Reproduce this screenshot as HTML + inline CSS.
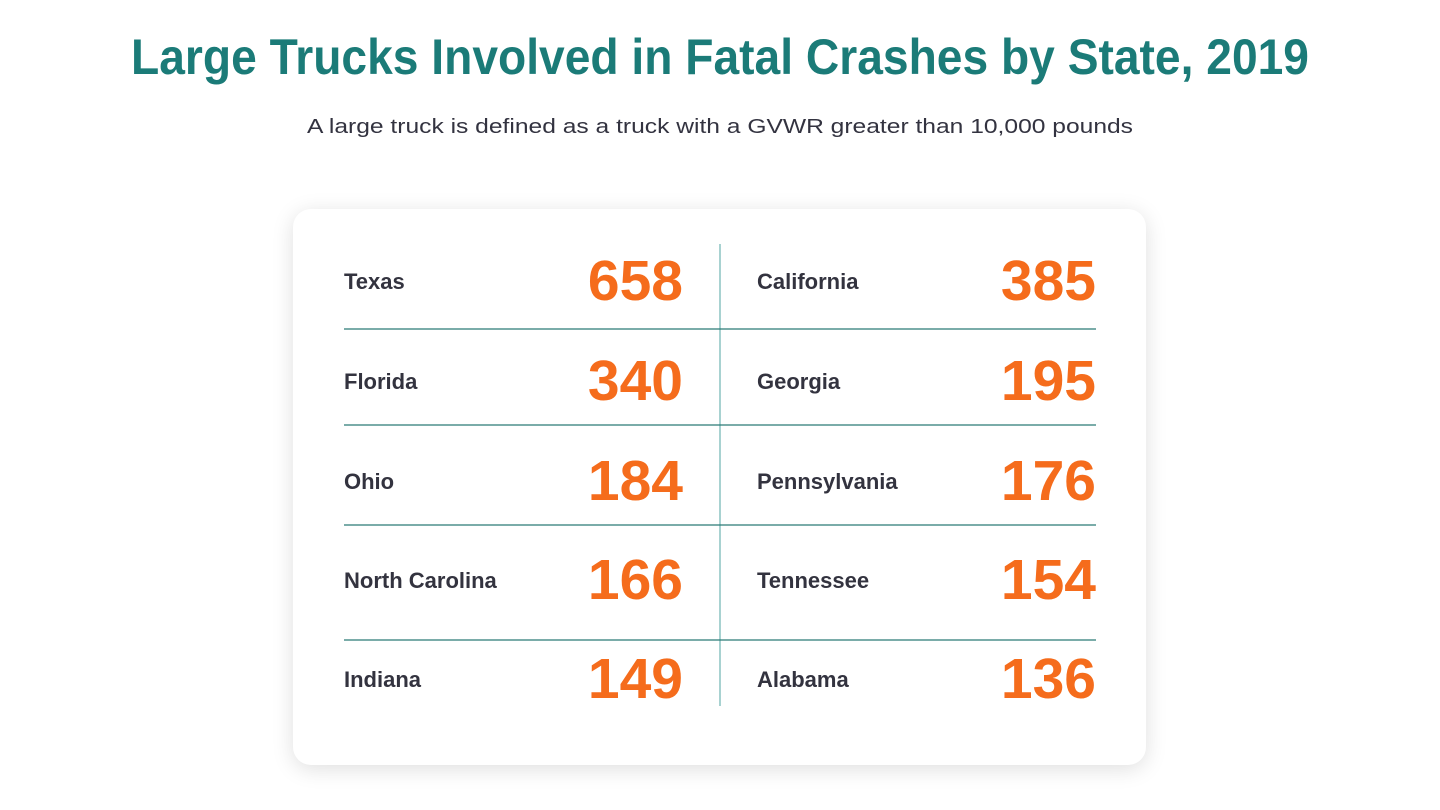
<!DOCTYPE html>
<html><head><meta charset="utf-8"><style>
html,body{margin:0;padding:0;background:#fff;width:1440px;height:810px;overflow:hidden}
.card{position:absolute;left:293px;top:209px;width:853px;height:556px;background:#fff;border-radius:18px;box-shadow:0 4px 22px rgba(0,0,0,0.13)}
svg{position:absolute;left:0;top:0}
</style></head><body>
<div class="card"></div>
<svg width="1440" height="810" font-family="Liberation Sans, sans-serif">
<text x="720" y="74" text-anchor="middle" font-size="50" font-weight="bold" fill="#1b7b78" textLength="1178" lengthAdjust="spacingAndGlyphs">Large Trucks Involved in Fatal Crashes by State, 2019</text>
<text x="720" y="133" text-anchor="middle" font-size="20" fill="#333340" textLength="826" lengthAdjust="spacingAndGlyphs">A large truck is defined as a truck with a GVWR greater than 10,000 pounds</text>
<line x1="720" y1="244" x2="720" y2="706" stroke="#8cc4c2" stroke-width="1.5"/>
<g stroke="#2a7a76" stroke-width="1.2">
<line x1="344" y1="329" x2="1096" y2="329"/>
<line x1="344" y1="425" x2="1096" y2="425"/>
<line x1="344" y1="525" x2="1096" y2="525"/>
<line x1="344" y1="640" x2="1096" y2="640"/>
</g>
<g font-size="22" font-weight="bold" fill="#33333f">
<text x="344" y="289">Texas</text><text x="757" y="289">California</text>
<text x="344" y="389">Florida</text><text x="757" y="389">Georgia</text>
<text x="344" y="489">Ohio</text><text x="757" y="489">Pennsylvania</text>
<text x="344" y="588">North Carolina</text><text x="757" y="588">Tennessee</text>
<text x="344" y="687">Indiana</text><text x="757" y="687">Alabama</text>
</g>
<g font-size="57" font-weight="bold" fill="#f56c1c" text-anchor="end">
<text x="683" y="300">658</text><text x="1096" y="300">385</text>
<text x="683" y="400">340</text><text x="1096" y="400">195</text>
<text x="683" y="500">184</text><text x="1096" y="500">176</text>
<text x="683" y="599">166</text><text x="1096" y="599">154</text>
<text x="683" y="698">149</text><text x="1096" y="698">136</text>
</g>
</svg>
</body></html>
